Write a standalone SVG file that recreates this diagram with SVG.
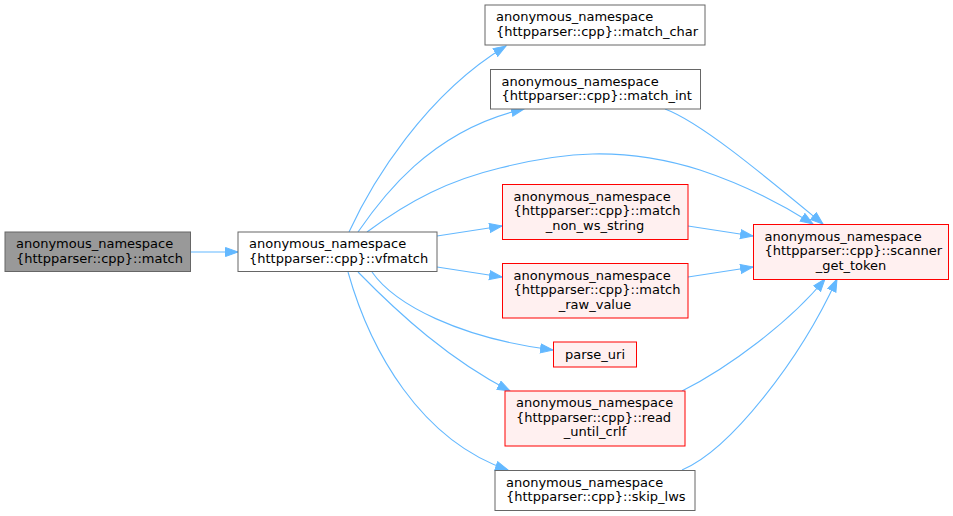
<svg xmlns="http://www.w3.org/2000/svg" width="953" height="516" viewBox="0 0 953 516">
<style>
.n rect{stroke-width:1}
.g rect{fill:#999999;stroke:#666666}
.w rect{fill:#ffffff;stroke:#666666}
.r rect{fill:#fff0f0;stroke:#ff0000}
text{font-family:"DejaVu Sans","Liberation Sans",sans-serif;font-size:13px;fill:#000000}
.m{text-anchor:middle}
#edges path{fill:none;stroke:#63b8ff;stroke-width:1.1;marker-end:url(#a)}
</style>
<defs>
<marker id="a" markerWidth="15" markerHeight="12" refX="13" refY="5" orient="auto" markerUnits="userSpaceOnUse">
<path d="M0.5,0.5 L13,5 L0.5,9.5 z" fill="#63b8ff" stroke="#63b8ff" stroke-width="1"/>
</marker>
</defs>
<rect width="953" height="516" fill="#ffffff"/>
<g id="edges">
<path d="M190,252 L238,252"/>
<path d="M349,232 C372,182 425,95 506,46"/>
<path d="M358,232 C380,200 430,130 524,109"/>
<path d="M367,232 C410,200 450,180 500,168 C560,153 620,145 700,170 C745,185 780,203 813,224"/>
<path d="M437,236 L502,226"/>
<path d="M437,267 L502,277"/>
<path d="M372,272 C395,305 460,338 553,350"/>
<path d="M358,272 C400,315 450,360 510,391"/>
<path d="M348,272 C370,350 420,440 508,470"/>
<path d="M665,109 C700,122 760,172 823,224"/>
<path d="M688,226 L753,236"/>
<path d="M688,277 L753,267"/>
<path d="M682,391 C728,368 790,322 825,279"/>
<path d="M682,470 C730,450 800,360 837,279"/>
</g>
<g id="node_match" class="n g">
<rect x="5" y="232" width="185.5" height="39.5"/>
<text x="16" y="248">anonymous_namespace</text>
<text x="16" y="262.5">{httpparser::cpp}::match</text>
</g>
<g id="node_vfmatch" class="n w">
<rect x="238" y="232" width="199" height="39.5"/>
<text x="249" y="248">anonymous_namespace</text>
<text x="249" y="262.5">{httpparser::cpp}::vfmatch</text>
</g>
<g id="node_match_char" class="n w">
<rect x="485" y="5" width="220" height="40"/>
<text x="496" y="21">anonymous_namespace</text>
<text x="496" y="35.5">{httpparser::cpp}::match_char</text>
</g>
<g id="node_match_int" class="n w">
<rect x="490.5" y="69.5" width="210" height="39.5"/>
<text x="501.5" y="85.5">anonymous_namespace</text>
<text x="501.5" y="100">{httpparser::cpp}::match_int</text>
</g>
<g id="node_match_non_ws_string" class="n r">
<rect x="502.5" y="184.5" width="185.5" height="55"/>
<text x="513.5" y="200.5">anonymous_namespace</text>
<text x="513.5" y="215">{httpparser::cpp}::match</text>
<text x="595" y="229.5" class="m">_non_ws_string</text>
</g>
<g id="node_match_raw_value" class="n r">
<rect x="502.5" y="263.5" width="185.5" height="54.5"/>
<text x="513.5" y="279.5">anonymous_namespace</text>
<text x="513.5" y="294">{httpparser::cpp}::match</text>
<text x="595" y="308.5" class="m">_raw_value</text>
</g>
<g id="node_scanner_get_token" class="n r">
<rect x="753.5" y="224.5" width="195" height="55"/>
<text x="764.5" y="240.5">anonymous_namespace</text>
<text x="764.5" y="255">{httpparser::cpp}::scanner</text>
<text x="851" y="269.5" class="m">_get_token</text>
</g>
<g id="node_parse_uri" class="n r">
<rect x="553.5" y="342" width="83" height="25"/>
<text x="595" y="359" class="m">parse_uri</text>
</g>
<g id="node_read_until_crlf" class="n r">
<rect x="505" y="391" width="180" height="55"/>
<text x="516" y="407">anonymous_namespace</text>
<text x="516" y="421.5">{httpparser::cpp}::read</text>
<text x="595" y="436" class="m">_until_crlf</text>
</g>
<g id="node_skip_lws" class="n w">
<rect x="495" y="470.5" width="200" height="40"/>
<text x="506" y="486.5">anonymous_namespace</text>
<text x="506" y="501">{httpparser::cpp}::skip_lws</text>
</g>
</svg>
